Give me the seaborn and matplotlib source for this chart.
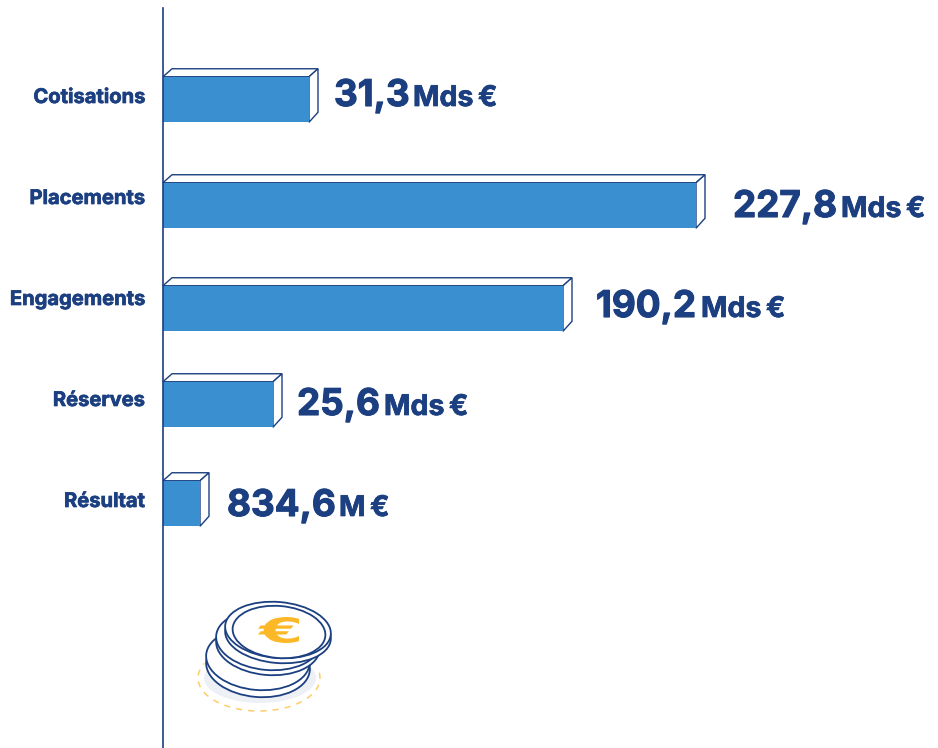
import matplotlib
matplotlib.use("Agg")
import matplotlib.pyplot as plt
from matplotlib.patches import Ellipse, Polygon, Arc, PathPatch
from matplotlib.textpath import TextPath
from matplotlib.font_manager import FontProperties
from matplotlib.transforms import Affine2D
import matplotlib.patheffects as pe
import seaborn as sns

# data
categories = ["Cotisations", "Placements", "Engagements", "Réserves", "Résultat"]
amounts = ["31,3", "227,8", "190,2", "25,6", "834,6"]
units = ["Mds\u2009€", "Mds\u2009€", "Mds\u2009€", "Mds\u2009€", "M\u2009€"]
# the bars are not to scale with the amounts, so lengths are read separately
bar_lengths = [146, 533, 400, 110, 37]

# layout, in pixels of the image
bar_rows = [99.5, 205.5, 308.5, 404.5, 503.5]
label_rows = [98, 199, 300, 401, 502]
amount_x = [334, 733, 596, 297, 227]
unit_x = [413, 841, 701, 384, 339]
baselines = [106, 217, 317, 415, 516]
axis_x = 163

NAVY = "#1B3F80"
BLUE = "#3A8FD0"
ORANGE = "#FDB827"

sns.set_theme(style="white")
plt.rcParams["font.family"] = ["Inter", "DejaVu Sans"]

fig = plt.figure(figsize=(9.38, 7.48), dpi=100)
ax = fig.add_axes([0, 0, 1, 1])
ax.patch.set_alpha(0)

sns.barplot(x=bar_lengths, y=bar_rows, orient="y", native_scale=True,
            color=BLUE, saturation=1, width=45.5 / 96, linewidth=0, ax=ax, zorder=3)

ax.set_xlim(-axis_x, 938 - axis_x)
ax.set_ylim(748, 0)
ax.set_xticks([])
ax.set_yticks([])
ax.set_xlabel("")
ax.set_ylabel("")

for side in ["top", "right", "bottom"]:
    ax.spines[side].set_visible(False)
ax.spines["left"].set_position(("data", 0))
ax.spines["left"].set_bounds(8, 748)
ax.spines["left"].set_color(NAVY)
ax.spines["left"].set_linewidth(1.2)
ax.spines["left"].set_zorder(4)

# open box behind each bar
depth_x, depth_y = 9, 8
for bar in list(ax.patches):
    w = bar.get_width()
    top = bar.get_y()
    bottom = top + bar.get_height()
    ax.add_patch(Polygon([(0, top), (depth_x, top - depth_y), (w + depth_x, top - depth_y), (w, top)],
                         facecolor="white", edgecolor=NAVY, linewidth=1, zorder=2))
    ax.add_patch(Polygon([(w, top), (w + depth_x, top - depth_y), (w + depth_x, bottom - depth_y - 2), (w, bottom)],
                         facecolor="white", edgecolor=NAVY, linewidth=1, zorder=2))

heavy = [pe.withStroke(linewidth=0.5, foreground=NAVY)]
for i, cat in enumerate(categories):
    ax.text(145 - axis_x, label_rows[i], cat, ha="right", va="center",
            fontsize=14.5, fontweight="bold", color=NAVY, path_effects=heavy)
    ax.text(amount_x[i] - axis_x, baselines[i], amounts[i], ha="left", va="baseline",
            fontsize=26.5, fontweight="bold", color=NAVY, path_effects=[pe.withStroke(linewidth=0.8, foreground=NAVY)])
    ax.text(unit_x[i] - axis_x, baselines[i], units[i], ha="left", va="baseline",
            fontsize=20.5, fontweight="bold", color=NAVY, path_effects=heavy)

# stack of coins
cx = 278 - axis_x
ax.add_patch(Ellipse((cx - 18, 678), 112, 50, facecolor="#EDF1F6", edgecolor="none", zorder=2))
ax.add_patch(Arc((cx - 19, 678), 122, 66, theta1=-5, theta2=195, color=ORANGE, linewidth=1.1,
                 linestyle=(0, (4, 4)), alpha=0.7, zorder=2))
coins = [(-20, 666, 52, 31), (-20, 659, 52, 31), (-10, 645, 52, 30), (-10, 640, 52, 30),
         (0, 635, 53, 28), (0, 630, 53, 28)]
for dx, cy, rx, ry in coins:
    ax.add_patch(Ellipse((cx + dx, cy), 2 * rx, 2 * ry, angle=5, facecolor="white", edgecolor=NAVY,
                         linewidth=1.3, zorder=3))
ax.add_patch(Ellipse((cx + 1, 632), 93, 52, angle=5, facecolor="white", edgecolor=NAVY, linewidth=1.3, zorder=3))

# euro sign on the top coin, stretched like the coin is
glyph = TextPath((0, 0), "€", size=30, prop=FontProperties(family="DejaVu Sans", weight="bold"))
box = glyph.get_extents()
to_coin = (Affine2D().translate(-box.x0 - box.width / 2, -box.y0 - box.height / 2)
           .scale(41 / box.width, -26 / box.height).translate(cx + 0.5, 630))
ax.add_patch(PathPatch(to_coin.transform_path(glyph), facecolor=ORANGE, edgecolor="none", zorder=4))

fig.savefig("out.png", dpi=100, facecolor="white")
